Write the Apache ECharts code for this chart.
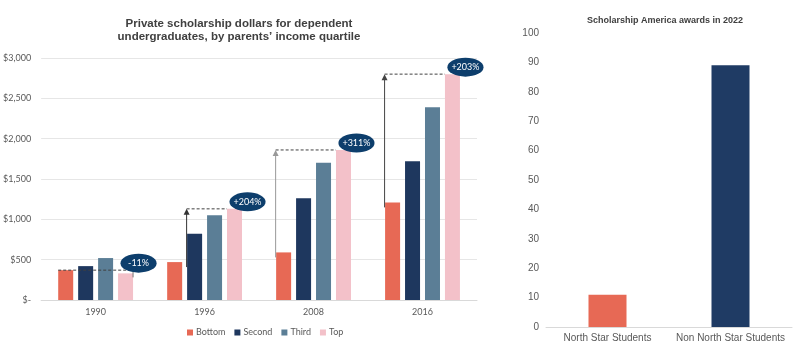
<!DOCTYPE html>
<html>
<head>
<meta charset="utf-8">
<script src="https://cdn.jsdelivr.net/npm/echarts@6/dist/echarts.min.js"></script>
<style>
  html, body { margin: 0; padding: 0; background: #fff; }
  #main { width: 800px; height: 351px; }
</style>
</head>
<body>
<div id="main"></div>
<script>
// 左图：按父母收入四分位的私人奖学金
var years = ['1990', '1996', '2008', '2016']
var bottomVals = [370, 470, 590, 1210]
var secondVals = [420, 820, 1260, 1720]
var thirdVals = [520, 1050, 1700, 2390]
var topVals = [330, 1130, 1860, 2800]
var changeLabels = ['-11%', '+204%', '+311%', '+203%']
var yTicks = [0, 500, 1000, 1500, 2000, 2500, 3000]

// 右图：Scholarship America 2022
var groups = ['North Star Students', 'Non North Star Students']
var awardVals = [11, 89]

var C_BOTTOM = '#e76955'
var C_SECOND = '#1e375e'
var C_THIRD = '#5b7e96'
var C_TOP = '#f3c1c9'
var C_BUBBLE = '#0d3e6c'
var LABEL = '#595959'

var chart = echarts.init(document.getElementById('main'))

function money (v) {
  if (v === 0) return '$-'
  return '$' + v.toLocaleString('en-US')
}

var option = {
  animation: false,
  title: [{
    text: 'Private scholarship dollars for dependent\nundergraduates, by parents\u2019 income quartile',
    left: 234, top: 12, textAlign: 'center',
    textStyle: { fontFamily: 'Liberation Sans', fontSize: 11.5, fontWeight: 'bold', color: '#404040', lineHeight: 13 }
  }, {
    text: 'Scholarship America awards in 2022',
    left: 660, top: 11, textAlign: 'center',
    textStyle: { fontFamily: 'Liberation Sans', fontSize: 9, fontWeight: 'bold', color: '#404040' }
  }],
  legend: {
    left: 182, top: 323,
    itemWidth: 6, itemHeight: 6, itemGap: 9,
    icon: 'rect',
    textStyle: { fontFamily: 'Lato', fontSize: 9, color: LABEL, padding: [0, 0, 0, -2] },
    data: ['Bottom', 'Second', 'Third', 'Top']
  },
  grid: [
    { left: 38, right: 323, top: 58, bottom: 51 },
    { left: 546, right: 8, top: 33, bottom: 24 }
  ],
  xAxis: [{
    type: 'category', gridIndex: 0, data: years,
    axisLine: { lineStyle: { color: '#d9d9d9' } },
    axisTick: { show: false },
    axisLabel: { fontFamily: 'Lato', fontSize: 9, color: LABEL, margin: 8 }
  }, {
    type: 'category', gridIndex: 1, data: groups,
    axisLine: { lineStyle: { color: '#d9d9d9' } },
    axisTick: { show: false },
    axisLabel: { interval: 0, fontFamily: 'Liberation Sans', fontSize: 10, color: LABEL, margin: 6 }
  }],
  yAxis: [{
    type: 'value', gridIndex: 0, min: 0, max: 3000, interval: 500,
    axisLine: { show: false }, axisTick: { show: false },
    splitLine: { lineStyle: { color: '#e6e6e6' } },
    axisLabel: { fontFamily: 'Lato', fontSize: 9, color: LABEL, margin: 10, formatter: money }
  }, {
    type: 'value', gridIndex: 1, min: 0, max: 100, interval: 10,
    axisLine: { show: false }, axisTick: { show: false },
    splitLine: { show: false },
    axisLabel: { fontFamily: 'Liberation Sans', fontSize: 10, color: LABEL, margin: 7 }
  }],
  series: [
    { name: 'Bottom', type: 'bar', data: bottomVals, barWidth: 15, barGap: '33%', itemStyle: { color: C_BOTTOM } },
    { name: 'Second', type: 'bar', data: secondVals, barWidth: 15, barGap: '33%', itemStyle: { color: C_SECOND } },
    { name: 'Third', type: 'bar', data: thirdVals, barWidth: 15, barGap: '33%', itemStyle: { color: C_THIRD } },
    { name: 'Top', type: 'bar', data: topVals, barWidth: 15, barGap: '33%', itemStyle: { color: C_TOP } },
    {
      name: 'awards', type: 'bar', xAxisIndex: 1, yAxisIndex: 1, barWidth: 38,
      data: awardVals.map(function (v, i) {
        return { value: v, itemStyle: { color: i === 0 ? C_BOTTOM : '#1f3b64' } }
      })
    }
  ]
}

chart.setOption(option)

// 注释：虚线、箭头、百分比气泡，位置取自柱子的布局
var arrowBar = [0, 1, 0, 0] // 箭头挂在哪根柱子的左边
var arrowColors = ['#555', '#333', '#999', '#444']
var model = chart.getModel()
function lay (si, j) {
  return model.getSeriesByIndex(si).getData().getItemLayout(j)
}
var els = []
years.forEach(function (yr, j) {
  var b = lay(0, j)
  var t = lay(3, j)
  var yB = b.y + b.height
  var yT = t.y + t.height
  var dash = { stroke: '#404040', lineWidth: 1, lineDash: [3, 2] }
  if (topVals[j] < bottomVals[j]) {
    els.push({ type: 'line', z: 100, shape: { x1: b.x, y1: yB, x2: t.x + t.width, y2: yB }, style: dash })
    els.push({ type: 'line', z: 100, shape: { x1: t.x + t.width, y1: yB, x2: t.x + t.width, y2: yT + 4 }, style: { stroke: '#777', lineWidth: 1 } })
  } else {
    var a = lay(arrowBar[j], j)
    var ax = a.x - 0.5
    els.push({ type: 'line', z: 100, shape: { x1: ax, y1: yT, x2: t.x, y2: yT }, style: dash })
    els.push({ type: 'line', z: 100, shape: { x1: ax, y1: yB + 5, x2: ax, y2: yT + 4 }, style: { stroke: arrowColors[j], lineWidth: 1 } })
    els.push({ type: 'polygon', z: 100, shape: { points: [[ax, yT], [ax - 3, yT + 6], [ax + 3, yT + 6]] }, style: { fill: arrowColors[j] } })
  }
  var cx = t.x + t.width / 2 + 13
  var cy = Math.min(yB, yT) - 7
  els.push({ type: 'circle', z: 110, x: cx, y: cy, scaleX: 1.9, shape: { cx: 0, cy: 0, r: 9.5 }, style: { fill: C_BUBBLE } })
  els.push({
    type: 'text', z: 111, x: cx, y: cy,
    style: { text: changeLabels[j], fill: '#fff', font: '9px Lato', align: 'center', verticalAlign: 'middle' }
  })
})
chart.setOption({ graphic: { elements: els } })
</script>
</body>
</html>
